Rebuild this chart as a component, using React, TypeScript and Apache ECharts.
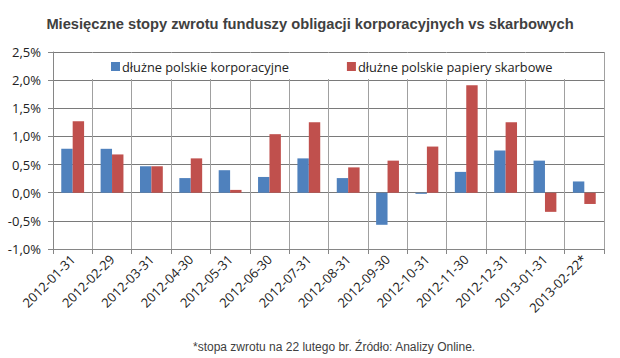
import React, { useEffect, useRef } from "react";
import * as echarts from "echarts";

const categories = [
  "2012-01-31", "2012-02-29", "2012-03-31", "2012-04-30", "2012-05-31", "2012-06-30", "2012-07-31",
  "2012-08-31", "2012-09-30", "2012-10-31", "2012-11-30", "2012-12-31", "2013-01-31", "2013-02-22*",
];
const corporate = [0.78, 0.78, 0.47, 0.26, 0.4, 0.28, 0.61, 0.26, -0.57, -0.02, 0.37, 0.75, 0.57, 0.2];
const treasury = [1.27, 0.68, 0.47, 0.61, 0.05, 1.04, 1.25, 0.45, 0.57, 0.82, 1.91, 1.25, -0.34, -0.2];
const seriesNames = ["dłużne polskie korporacyjne", "dłużne polskie papiery skarbowe"];
const titleText = "Miesięczne stopy zwrotu funduszy obligacji korporacyjnych vs skarbowych";
const footnoteText = "*stopa zwrotu na 22 lutego br. Źródło: Analizy Online.";

export default function App() {
  const ref = useRef<HTMLDivElement>(null);
  useEffect(() => {
    if (!ref.current) return;
    const chart = echarts.init(ref.current, undefined, { renderer: "svg" });
    chart.setOption({
      animation: false,
      backgroundColor: "#ffffff",
      title: {
        text: titleText,
        left: "center",
        top: 11,
        textStyle: { fontFamily: "Liberation Sans", fontSize: 14.7, fontWeight: "bold", color: "#404040" },
      },
      legend: {
        data: seriesNames,
        left: 111,
        top: 60,
        padding: 0,
        itemWidth: 9,
        itemHeight: 9,
        itemGap: 58,
        icon: "rect",
        textStyle: { fontFamily: "Open Sans", fontSize: 12.8, color: "#222", padding: [0, 0, 0, -3] },
        z: 10,
      },
      graphic: [
        {
          type: "rect",
          shape: { x: 54, y: 53, width: 549, height: 26 },
          style: { fill: "#ffffff" },
          z: 1,
        },
        {
          type: "text",
          x: 193,
          y: 347,
          style: {
            text: footnoteText,
            font: "12px 'Liberation Sans'",
            fill: "#404040",
            textVerticalAlign: "middle",
          },
        },
      ],
      grid: { left: 53, right: 16, top: 52, bottom: 109, containLabel: false },
      xAxis: {
        type: "category",
        data: categories,
        boundaryGap: true,
        axisLine: { onZero: false, lineStyle: { color: "#868686", width: 1 } },
        axisTick: { show: true, length: 5, lineStyle: { color: "#868686" } },
        splitLine: { show: true, lineStyle: { color: "#a0a0a0", width: 1 } },
        axisLabel: {
          rotate: 45,
          margin: 8,
          fontFamily: "Open Sans",
          fontSize: 13,
          color: "#222",
          interval: 0,
        },
      },
      yAxis: {
        type: "value",
        min: -1,
        max: 2.5,
        interval: 0.5,
        axisLine: { show: true, lineStyle: { color: "#868686" } },
        axisTick: { show: true, length: 5, lineStyle: { color: "#868686" } },
        splitLine: { show: true, lineStyle: { color: "#7a7a7a", width: 1 } },
        axisLabel: {
          margin: 12,
          fontFamily: "Open Sans",
          fontSize: 13,
          color: "#222",
          formatter: (v: number) => v.toFixed(1).replace(".", ",") + "%",
        },
      },
      series: [
        {
          name: seriesNames[0],
          type: "bar",
          data: corporate,
          barGap: "0%",
          barCategoryGap: "42%",
          itemStyle: { color: "#4F81BD" },
          z: 2,
        },
        {
          name: seriesNames[1],
          type: "bar",
          data: treasury,
          barGap: "0%",
          barCategoryGap: "42%",
          itemStyle: { color: "#C0504D" },
          z: 2,
        },
      ],
    });
    return () => chart.dispose();
  }, []);
  return (
    <div
      ref={ref}
      style={{ position: "fixed", left: 0, top: 0, width: 620, height: 358 }}
    />
  );
}
